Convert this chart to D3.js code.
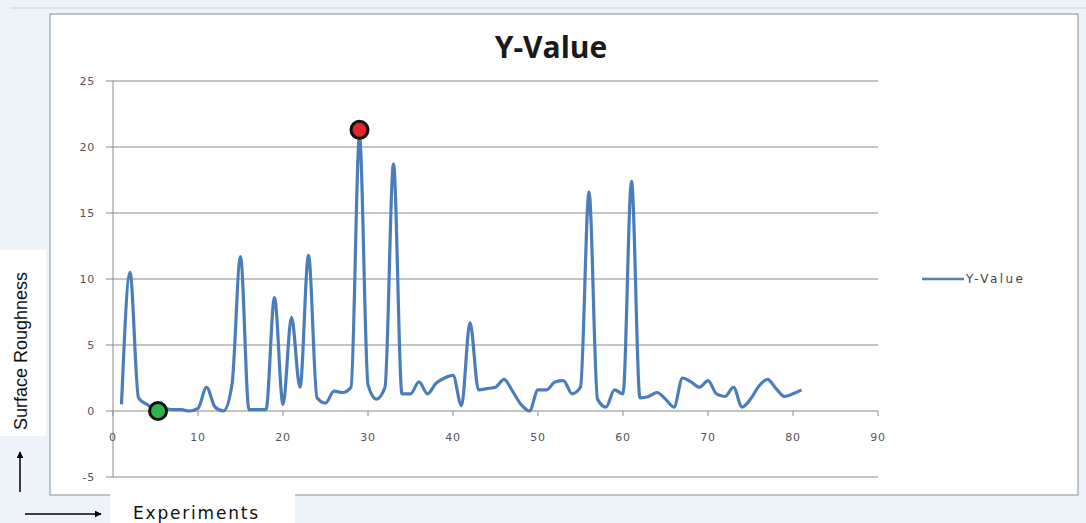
<!DOCTYPE html>
<html><head><meta charset="utf-8">
<script src="https://cdn.jsdelivr.net/npm/d3@7"></script>
<style>body{margin:0;background:#fff;}svg{display:block;}</style>
</head><body>
<svg id="c" width="1086" height="523"></svg>
<script>
const experiments = d3.range(1, 82);
const yValues = [0.5,10.5,1.0,0.5,0.2,0.2,0.1,0.1,0.0,0.2,
  1.8,0.3,0.0,2.0,11.7,0.1,0.1,0.1,8.6,0.5,
  7.1,1.8,11.8,1.0,0.6,1.5,1.4,1.8,20.8,2.0,
  0.9,1.8,18.7,1.3,1.3,2.2,1.3,2.1,2.5,2.7,
  0.4,6.7,1.6,1.7,1.8,2.4,1.5,0.5,0.0,1.6,
  1.6,2.2,2.3,1.3,1.8,16.6,0.9,0.3,1.6,1.3,
  17.4,1.0,1.1,1.4,0.9,0.3,2.5,2.2,1.8,2.3,
  1.3,1.1,1.8,0.3,0.9,1.9,2.4,1.7,1.1,1.3,1.6];
const xTicks = [0,10,20,30,40,50,60,70,80,90];
const yTicks = [-5,0,5,10,15,20,25];
const markerX = [5.3, 29.0];
const markerY = [0.0, 21.3];
const markerColors = ["#2fb34a", "#e0262a"];
const seriesName = "Y-Value";
const titleText = "Y-Value";
const yAxisTitle = "Surface Roughness";
const xAxisTitle = "Experiments";

const svg = d3.select("#c");
svg.append("rect").attr("x",0).attr("y",0).attr("width",1086).attr("height",523).attr("fill","#eef3fa");
svg.append("line").attr("x1",10).attr("x2",1086).attr("y1",8).attr("y2",8).attr("stroke","#c9d3dc");
svg.append("rect").attr("x",50).attr("y",14).attr("width",1028).attr("height",481)
  .attr("fill","#fff").attr("stroke","#a9b4be").attr("stroke-width",1.5);

const x = d3.scaleLinear().domain([0,90]).range([113,878]);
const y = d3.scaleLinear().domain([-5,25]).range([477,81]);

svg.append("g").selectAll("line").data(yTicks).join("line")
  .attr("x1",106).attr("x2",878).attr("y1",d=>y(d)).attr("y2",d=>y(d))
  .attr("stroke","#8a8a8a").attr("stroke-width",1);
svg.append("line").attr("x1",113).attr("x2",113).attr("y1",y(25)).attr("y2",y(-5))
  .attr("stroke","#8a8a8a").attr("stroke-width",1);
svg.append("g").selectAll("line").data(xTicks).join("line")
  .attr("x1",d=>x(d)).attr("x2",d=>x(d)).attr("y1",y(0)).attr("y2",y(0)+5)
  .attr("stroke","#8a8a8a");

const tickFont = "DejaVu Sans, Verdana, sans-serif";
svg.append("g").selectAll("text").data(yTicks).join("text")
  .attr("x",95).attr("y",d=>y(d)+4).attr("text-anchor","end")
  .attr("font-family",tickFont).attr("font-size",11).attr("letter-spacing",0.8).attr("fill","#555")
  .text(d=>d);
svg.append("g").selectAll("text").data(xTicks).join("text")
  .attr("x",d=>x(d)).attr("y",y(0)+30).attr("text-anchor","middle")
  .attr("font-family",tickFont).attr("font-size",11).attr("letter-spacing",0.8).attr("fill","#555")
  .text(d=>d);

svg.append("text").attr("x",551).attr("y",58).attr("text-anchor","middle")
  .attr("font-family","Open Sans, Liberation Sans, sans-serif").attr("font-weight","bold")
  .attr("font-size",30).attr("fill","#1a1a1a").text(titleText);

const line = d3.line().x((d,i)=>x(experiments[i])).y(d=>y(d)).curve(d3.curveMonotoneX);
svg.append("path").datum(yValues).attr("d",line).attr("fill","none")
  .attr("stroke","#4a7ebb").attr("stroke-width",3.2).attr("stroke-linejoin","round");

svg.append("g").selectAll("circle").data(markerX).join("circle")
  .attr("cx",d=>x(d)).attr("cy",(d,i)=>y(markerY[i])).attr("r",8.5)
  .attr("fill",(d,i)=>markerColors[i]).attr("stroke","#111").attr("stroke-width",3);

svg.append("line").attr("x1",922).attr("x2",964).attr("y1",279).attr("y2",279)
  .attr("stroke","#5a7fae").attr("stroke-width",2.5);
svg.append("text").attr("x",966).attr("y",283).attr("font-family",tickFont)
  .attr("font-size",12).attr("letter-spacing",2.4).attr("fill","#444").text(seriesName);

svg.append("rect").attr("x",0).attr("y",250).attr("width",46).attr("height",186).attr("fill","#fff");
svg.append("text").attr("transform","translate(27,351) rotate(-90)").attr("text-anchor","middle")
  .attr("font-family","Liberation Sans Narrow, Liberation Sans, sans-serif").attr("font-size",18)
  .attr("fill","#111").text(yAxisTitle);
svg.append("rect").attr("x",110).attr("y",478).attr("width",185).attr("height",45).attr("fill","#fff");
svg.append("text").attr("x",133).attr("y",519).attr("font-family","DejaVu Sans, sans-serif")
  .attr("font-size",17).attr("letter-spacing",1.8).attr("fill","#111").text(xAxisTitle);

const defs = svg.append("defs");
defs.append("marker").attr("id","ah").attr("viewBox","0 0 10 10").attr("refX",9).attr("refY",5)
  .attr("markerWidth",7).attr("markerHeight",7).attr("markerUnits","userSpaceOnUse").attr("orient","auto")
  .append("path").attr("d","M0,0L10,5L0,10z").attr("fill","#000");
svg.append("line").attr("x1",20).attr("x2",20).attr("y1",492).attr("y2",452)
  .attr("stroke","#000").attr("stroke-width",1.5).attr("marker-end","url(#ah)");
svg.append("line").attr("x1",25).attr("x2",101).attr("y1",514).attr("y2",514)
  .attr("stroke","#000").attr("stroke-width",1.5).attr("marker-end","url(#ah)");
</script>
</body></html>
